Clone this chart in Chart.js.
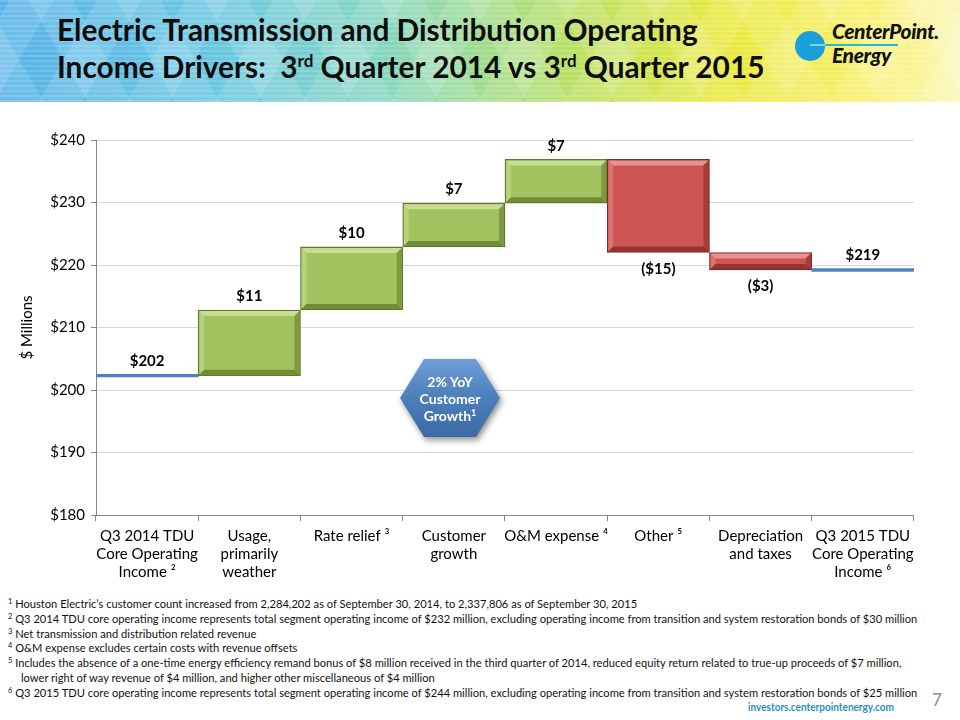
<!DOCTYPE html>
<html lang="en">
<head>
<meta charset="UTF-8">
<title>Electric Transmission and Distribution Operating Income Drivers</title>
<script src="https://cdn.jsdelivr.net/npm/chart.js"></script>
<style>
    body {
        margin: 0;
        width: 960px;
        height: 720px;
        position: relative;
        overflow: hidden;
        background: #fff;
        font-family: "Lato", sans-serif;
    }
    .header {
        position: absolute;
        left: 0; top: 0;
        width: 960px; height: 102px;
        background:
            repeating-linear-gradient(0deg, rgba(255,255,255,0.14) 0 2px, transparent 2px 5px),
            repeating-linear-gradient(60deg, rgba(255,255,255,0.13) 0 38px, transparent 38px 76px),
            repeating-linear-gradient(-60deg, rgba(255,255,255,0.13) 0 38px, transparent 38px 76px),
            linear-gradient(90deg, #58b3e8 0%, #69c6e2 22%, #86d6c0 40%, #b4df6a 58%, #e8e83c 75%, #f7f06a 90%, #fbf7b8 100%);
    }
    .title {
        position: absolute;
        left: 57px; top: 11px;
        font-weight: bold;
        font-size: 29.8px;
        line-height: 37px;
        color: #0d0d0d;
        white-space: nowrap;
    }
    .title sup { font-size: 17px; vertical-align: 11px; line-height: 0; }
    .logo-line {
        position: absolute;
        left: 810px; top: 44px;
        width: 88px; height: 2px;
        background: #2bb5d0;
    }
    .logo-dot {
        position: absolute;
        left: 795px; top: 31px;
        width: 30px; height: 30px;
        border-radius: 50%;
        background: #1a9fdc;
    }
    .logo-line2 {
        position: absolute;
        left: 810px; top: 44px;
        width: 15px; height: 2px;
        background: #7fd3e6;
    }
    .logo-text {
        position: absolute;
        left: 832px; top: 19px;
        font-weight: 900;
        font-style: italic;
        font-size: 21px;
        line-height: 24px;
        color: #111;
        letter-spacing: -0.4px;
        white-space: nowrap;
    }
    #chart-box {
        position: absolute;
        left: 0; top: 125px;
        width: 920px; height: 465px;
    }
    .hex-wrap {
        position: absolute;
        left: 400px; top: 359px;
        width: 100px; height: 78px;
        filter: drop-shadow(2px 3px 3px rgba(0,0,0,0.45));
    }
    .hex {
        width: 100%; height: 100%;
        clip-path: polygon(0 50%, 24% 0, 76% 0, 100% 50%, 76% 100%, 24% 100%);
        background: linear-gradient(180deg, #6f9fd8 0%, #4f81bd 45%, #3b6aa6 100%);
        color: #fff;
        font-weight: bold;
        font-size: 14px;
        line-height: 17px;
        text-align: center;
        display: flex;
        align-items: center;
        justify-content: center;
    }
    .hex sup { font-size: 9px; vertical-align: 5px; line-height: 0; }
    .notes {
        position: absolute;
        left: 8px; top: 597px;
        font-size: 12px;
        line-height: 14.8px;
        color: #111;
        white-space: nowrap;
        transform: scaleX(0.928);
        transform-origin: left top;
    }
    .notes sup { font-size: 8px; vertical-align: 4px; line-height: 0; }
    .notes .indent { padding-left: 14px; }
    .site {
        position: absolute;
        left: 748px; top: 700px;
        font-size: 11px;
        font-weight: bold;
        color: #2a8fc7;
        white-space: nowrap;
        transform: scaleX(0.91);
        transform-origin: left top;
    }
    .page {
        position: absolute;
        left: 932px; top: 689px;
        font-size: 17px;
        color: #8c8c8c;
    }
</style>
</head>
<body>
    <div class="header"></div>
    <div class="title">Electric Transmission and Distribution Operating<br>Income Drivers:&nbsp; 3<sup>rd</sup> Quarter 2014 vs 3<sup>rd</sup> Quarter 2015</div>
    <div class="logo-line"></div>
    <div class="logo-dot"></div>
    <div class="logo-line2"></div>
    <div class="logo-text">CenterPoint.<br>Energy</div>

    <div id="chart-box"><canvas id="waterfall"></canvas></div>

    <div class="hex-wrap"><div class="hex"><span>2% YoY<br>Customer<br>Growth<sup>1</sup></span></div></div>

    <div class="notes">
        <div><sup>1</sup> Houston Electric’s customer count increased from 2,284,202 as of September 30, 2014, to 2,337,806 as of September 30, 2015</div>
        <div><sup>2</sup> Q3 2014 TDU core operating income represents total segment operating income of $232 million, excluding operating income from transition and system restoration bonds of $30 million</div>
        <div><sup>3</sup> Net transmission and distribution related revenue</div>
        <div><sup>4</sup> O&amp;M expense excludes certain costs with revenue offsets</div>
        <div><sup>5</sup> Includes the absence of a one-time energy efficiency remand bonus of $8 million received in the third quarter of 2014, reduced equity return related to true-up proceeds of $7 million,</div>
        <div class="indent">lower right of way revenue of $4 million, and higher other miscellaneous of $4 million</div>
        <div><sup>6</sup> Q3 2015 TDU core operating income represents total segment operating income of $244 million, excluding operating income from transition and system restoration bonds of $25 million</div>
    </div>
    <div class="site">investors.centerpointenergy.com</div>
    <div class="page">7</div>

    <script>
        // categories (multi-line tick labels)
        const categories = [
            ["Q3 2014 TDU", "Core Operating", "Income \u00B2"],
            ["Usage,", "primarily", "weather"],
            ["Rate relief \u00B3"],
            ["Customer", "growth"],
            ["O&M expense \u2074"],
            ["Other \u2075"],
            ["Depreciation", "and taxes"],
            ["Q3 2015 TDU", "Core Operating", "Income \u2076"]
        ];
        // starting total and the drivers ($ millions)
        const startTotal = 202.3;
        const drivers = [10.5, 10.1, 7.0, 7.0, -14.9, -2.8];
        const yMin = 180, yMax = 240, yStep = 10;

        const LINE_HALF = 0.22;   // half thickness of the total lines, in axis units
        const BEVEL = 5;          // px

        // build floating bars from the data
        const ranges = [];
        const labelValues = [];
        const kinds = [];
        let level = startTotal;
        ranges.push([level - LINE_HALF, level + LINE_HALF]);
        labelValues.push(level);
        kinds.push('total');
        drivers.forEach(d => {
            ranges.push([level, level + d]);
            labelValues.push(d);
            kinds.push(d >= 0 ? 'up' : 'down');
            level += d;
        });
        ranges.push([level - LINE_HALF, level + LINE_HALF]);
        labelValues.push(level);
        kinds.push('total');

        const palette = {
            total: { fill: '#4f81bd', border: '#4f81bd' },
            up:    { fill: '#a2c35f', border: '#5f7a2c', light: '#c9de95', lightSide: '#b7d27a', dark: '#6f8c36', darkSide: '#7d9a3f' },
            down:  { fill: '#cd5654', border: '#7f2a28', light: '#e79290', lightSide: '#dc7471', dark: '#96332f', darkSide: '#a63c39' }
        };

        function fmt(v, kind) {
            const n = Math.round(Math.abs(v));
            return kind === 'down' ? '($' + n + ')' : '$' + n;
        }

        const bevelPlugin = {
            id: 'bevel',
            afterDatasetsDraw(chart) {
                const ctx = chart.ctx;
                const meta = chart.getDatasetMeta(0);
                meta.data.forEach((bar, i) => {
                    const kind = kinds[i];
                    if (kind === 'total') return;
                    const c = palette[kind];
                    const half = bar.width / 2;
                    const l = bar.x - half + 1, r = bar.x + half - 1;
                    const t = Math.min(bar.y, bar.base) + 1, b = Math.max(bar.y, bar.base) - 1;
                    const k = Math.min(BEVEL, (b - t) / 2);
                    ctx.save();
                    const poly = (pts, color) => {
                        ctx.beginPath();
                        ctx.moveTo(pts[0][0], pts[0][1]);
                        for (let p = 1; p < pts.length; p++) ctx.lineTo(pts[p][0], pts[p][1]);
                        ctx.closePath();
                        ctx.fillStyle = color;
                        ctx.fill();
                    };
                    poly([[l, t], [r, t], [r - k, t + k], [l + k, t + k]], c.light);
                    poly([[l, t], [l + k, t + k], [l + k, b - k], [l, b]], c.lightSide);
                    poly([[l, b], [r, b], [r - k, b - k], [l + k, b - k]], c.dark);
                    poly([[r, t], [r, b], [r - k, b - k], [r - k, t + k]], c.darkSide);
                    ctx.restore();
                });
            }
        };

        const labelPlugin = {
            id: 'valueLabels',
            afterDatasetsDraw(chart) {
                const ctx = chart.ctx;
                const meta = chart.getDatasetMeta(0);
                ctx.save();
                ctx.font = 'bold 15px "Lato", sans-serif';
                ctx.fillStyle = '#000';
                ctx.textAlign = 'center';
                meta.data.forEach((bar, i) => {
                    const kind = kinds[i];
                    const top = Math.min(bar.y, bar.base);
                    const bottom = Math.max(bar.y, bar.base);
                    if (kind === 'down') {
                        ctx.textBaseline = 'top';
                        ctx.fillText(fmt(labelValues[i], kind), bar.x, bottom + 9);
                    } else {
                        ctx.textBaseline = 'bottom';
                        ctx.fillText(fmt(labelValues[i], kind), bar.x, top - 6);
                    }
                });
                ctx.restore();
            }
        };

        new Chart(document.getElementById('waterfall'), {
            type: 'bar',
            data: {
                labels: categories,
                datasets: [{
                    data: ranges,
                    backgroundColor: kinds.map(k => palette[k].fill),
                    borderColor: kinds.map(k => palette[k].border),
                    borderWidth: kinds.map(k => k === 'total' ? 0 : 1.5),
                    borderSkipped: false,
                    categoryPercentage: 1.0,
                    barPercentage: 1.0
                }]
            },
            options: {
                responsive: true,
                maintainAspectRatio: false,
                animation: false,
                layout: { padding: { top: 15, right: 6, left: 0, bottom: 0 } },
                plugins: {
                    legend: { display: false },
                    tooltip: { enabled: false }
                },
                scales: {
                    x: {
                        offset: true,
                        grid: { display: true, drawOnChartArea: false, tickLength: 6, color: '#868686', offset: true },
                        border: { color: '#868686' },
                        ticks: {
                            color: '#000',
                            font: { family: '"Lato", sans-serif', size: 15 },
                            padding: 6,
                            maxRotation: 0,
                            autoSkip: false
                        },
                        afterFit: s => { s.height = 75; }
                    },
                    y: {
                        min: yMin,
                        max: yMax,
                        ticks: {
                            stepSize: yStep,
                            color: '#000',
                            font: { family: '"Lato", sans-serif', size: 15 },
                            padding: 6,
                            callback: v => '$' + v
                        },
                        grid: { color: '#d9d9d9', tickColor: '#868686', tickLength: 5 },
                        border: { color: '#868686' },
                        title: {
                            display: true,
                            text: '$ Millions',
                            color: '#000',
                            font: { family: '"Lato", sans-serif', size: 15 },
                            padding: { top: 18, bottom: 0 }
                        },
                        afterFit: s => { s.width = 96; }
                    }
                }
            },
            plugins: [bevelPlugin, labelPlugin]
        });
    </script>
</body>
</html>
